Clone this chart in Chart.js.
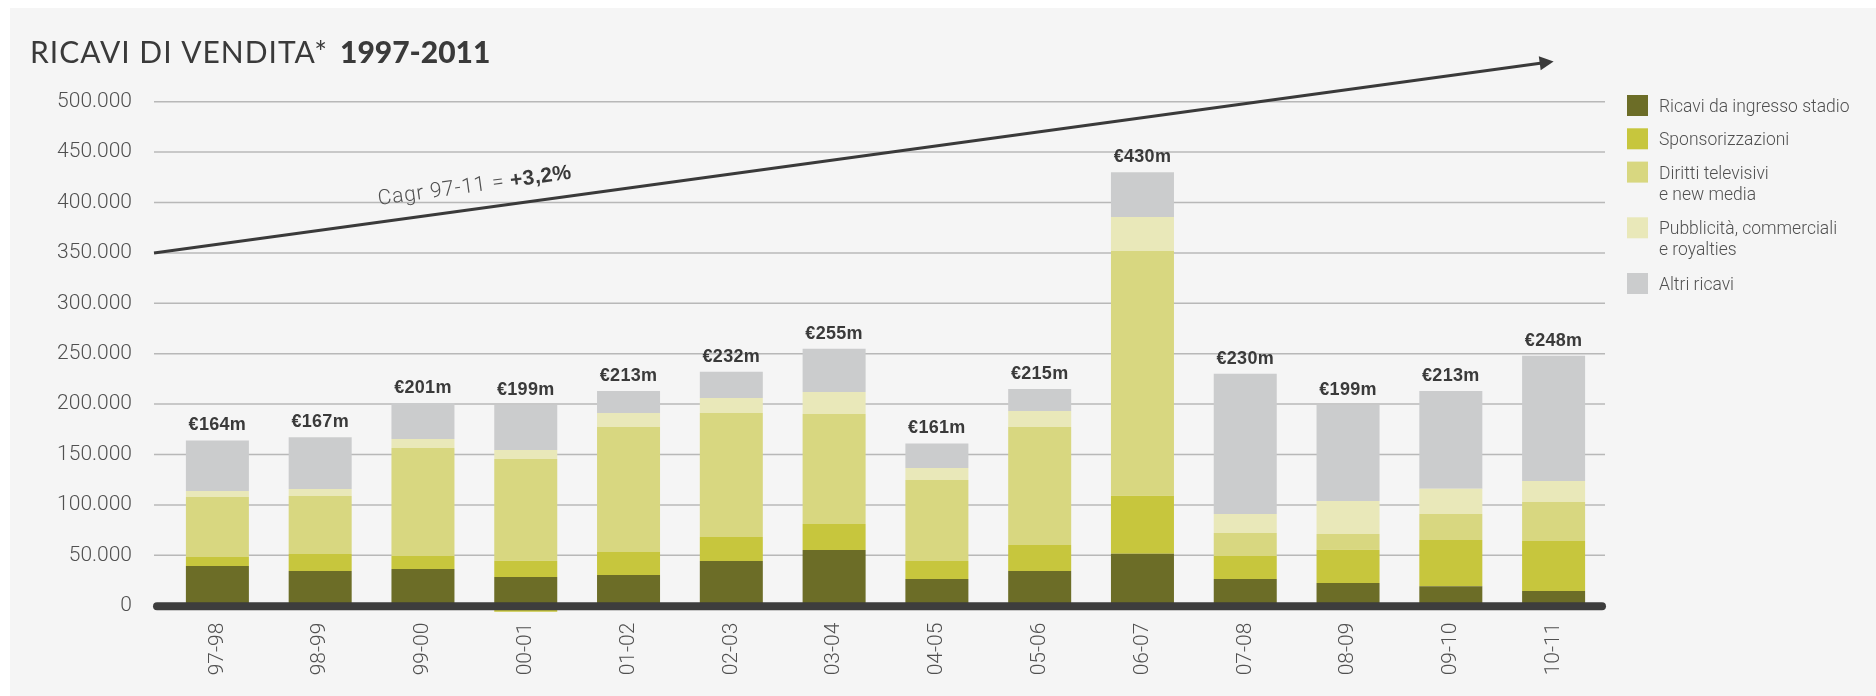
<!DOCTYPE html>
<html>
<head>
<meta charset="utf-8">
<script src="https://cdn.jsdelivr.net/npm/chart.js@4/dist/chart.umd.min.js"></script>
<style>
  html, body { margin: 0; padding: 0; background: #ffffff; }
  #wrap { position: absolute; left: 0; top: 0; width: 1876px; height: 696px; }
  canvas { display: block; }
</style>
</head>
<body>
<div id="wrap"><canvas id="chart" width="1876" height="696"></canvas></div>
<script>
// Seasons on the x axis
const seasons = ['97-98', '98-99', '99-00', '00-01', '01-02', '02-03', '03-04',
                 '04-05', '05-06', '06-07', '07-08', '08-09', '09-10', '10-11'];

// Revenue components, thousand euro
const stadio  = [39400, 34400, 36400, 28500, 30500, 44300, 55300, 26500, 34400, 51500, 26500, 22600, 19400, 14600];
const sponsor = [ 8900, 16900, 12900, 16000, 22800, 23900, 25700, 17800, 25800, 57600, 22800, 32800, 45800, 49600];
const sponsorNeg = [0, 0, 0, -6000, 0, 0, 0, 0, 0, 0, 0, 0, 0, 0];
const tv      = [59500, 57500, 107100, 101000, 124000, 123000, 109200, 80400, 117100, 242800, 22900, 15700, 25700, 38700];
const pubb    = [ 6000,  7000,   9000,   9000,  13900,  14800,  21800, 11900,  15900,  33700, 18700, 32800, 25000, 20700];
const altri   = [50200, 51200,  35600,  44500,  21800,  26000,  43000, 24400,  21800,  44400, 139100, 95100, 97100, 124400];

// Legend entries (one array per entry, one string per line)
const seriesNames = [
  ['Ricavi da ingresso stadio'],
  ['Sponsorizzazioni'],
  ['Diritti televisivi', 'e new media'],
  ['Pubblicità, commerciali', 'e royalties'],
  ['Altri ricavi']
];
const seriesColors = ['#6c6d27', '#c7c63d', '#d8d780', '#e9e8b9', '#cbcccd'];

// Y axis ticks
const yTicks = [0, 50000, 100000, 150000, 200000, 250000, 300000, 350000, 400000, 450000, 500000];

// Growth trend arrow (thousand euro at start of grid and at last season)
const trendFrom = 350000;
const trendTo = 540000;

const TEXT_DARK = '#3a3a3a';
const TEXT_GRAY = '#505050';

function fmtThousands(v) {
  return String(v).replace(/\B(?=(\d{3})+(?!\d))/g, '.');
}

const GRID_LEFT = 154;

const decor = {
  id: 'decor',
  beforeDraw(chart) {
    const ctx = chart.ctx;
    ctx.save();
    ctx.fillStyle = '#ffffff';
    ctx.fillRect(0, 0, chart.width, chart.height);
    ctx.fillStyle = '#f5f5f5';
    ctx.fillRect(10, 8, chart.width - 10, chart.height - 8);

    // Title
    ctx.textBaseline = 'alphabetic';
    ctx.textAlign = 'left';
    ctx.fillStyle = TEXT_DARK;
    ctx.letterSpacing = '1px';
    ctx.font = '400 30px Lato';
    ctx.fillText('RICAVI DI VENDITA*', 30, 63);
    ctx.letterSpacing = '0px';
    ctx.font = '900 30px Lato';
    ctx.fillText('1997-2011', 340, 63);
    ctx.restore();
  },
  beforeDatasetsDraw(chart) {
    const ctx = chart.ctx;
    const y = chart.scales.y;
    const area = chart.chartArea;
    ctx.save();
    ctx.strokeStyle = '#b8b8b8';
    ctx.lineWidth = 1.5;
    yTicks.forEach(v => {
      if (v === 0) return;
      const py = y.getPixelForValue(v);
      ctx.beginPath();
      ctx.moveTo(GRID_LEFT, py);
      ctx.lineTo(area.right, py);
      ctx.stroke();
    });
    ctx.restore();
  },
  afterDatasetsDraw(chart) {
    const ctx = chart.ctx;
    const x = chart.scales.x;
    const y = chart.scales.y;
    const area = chart.chartArea;
    ctx.save();

    // Thick base line
    const y0 = y.getPixelForValue(0) + 0.5;
    ctx.strokeStyle = '#3d3d3d';
    ctx.lineWidth = 8;
    ctx.lineCap = 'round';
    ctx.beginPath();
    ctx.moveTo(GRID_LEFT + 3, y0);
    ctx.lineTo(area.right - 3, y0);
    ctx.stroke();

    // Totals above each stack
    ctx.fillStyle = TEXT_DARK;
    ctx.font = 'bold 18px "Liberation Sans", Arial, sans-serif';
    ctx.textAlign = 'center';
    ctx.textBaseline = 'alphabetic';
    ctx.letterSpacing = '0.3px';
    seasons.forEach((s, i) => {
      const total = stadio[i] + sponsor[i] + tv[i] + pubb[i] + altri[i];
      const px = x.getPixelForValue(i);
      const py = y.getPixelForValue(total);
      ctx.fillText('€' + Math.round(total / 1000) + 'm', px, py - 10);
    });
    ctx.letterSpacing = '0px';

    // Trend arrow
    const xa = GRID_LEFT;
    const ya = y.getPixelForValue(trendFrom);
    const xb = x.getPixelForValue(seasons.length - 1);
    const yb = y.getPixelForValue(trendTo);
    const ang = Math.atan2(yb - ya, xb - xa);
    ctx.strokeStyle = '#3a3a3a';
    ctx.fillStyle = '#3a3a3a';
    ctx.lineWidth = 3;
    ctx.lineCap = 'butt';
    ctx.beginPath();
    ctx.moveTo(xa, ya);
    ctx.lineTo(xb - Math.cos(ang) * 8, yb - Math.sin(ang) * 8);
    ctx.stroke();
    ctx.save();
    ctx.translate(xb, yb);
    ctx.rotate(ang);
    ctx.beginPath();
    ctx.moveTo(0, 0);
    ctx.lineTo(-14, -7);
    ctx.lineTo(-14, 7);
    ctx.closePath();
    ctx.fill();
    ctx.restore();

    // Trend caption along the arrow
    const tx = 381;
    const ty = ya + (tx - xa) * Math.tan(ang);
    ctx.save();
    ctx.translate(tx, ty);
    ctx.rotate(ang);
    ctx.textAlign = 'left';
    ctx.textBaseline = 'alphabetic';
    ctx.fillStyle = TEXT_GRAY;
    ctx.letterSpacing = '0.8px';
    ctx.font = '300 21px Roboto';
    const cap1 = 'Cagr 97-11 = ';
    ctx.fillText(cap1, 0, -17);
    const cw = ctx.measureText(cap1).width;
    ctx.fillStyle = TEXT_DARK;
    ctx.letterSpacing = '0.3px';
    ctx.font = 'bold 21px "Liberation Sans", Arial, sans-serif';
    ctx.fillText('+3,2%', cw, -17);
    ctx.letterSpacing = '0px';
    ctx.restore();

    // Legend
    let ly = 95;
    ctx.textAlign = 'left';
    ctx.font = '300 17.5px Roboto';
    seriesNames.forEach((lines, i) => {
      ctx.fillStyle = seriesColors[i];
      ctx.fillRect(1627, ly, 21, 21);
      ctx.fillStyle = TEXT_GRAY;
      lines.forEach((t, j) => ctx.fillText(t, 1659, ly + 17 + j * 21));
      ly += 33.3 + 22.4 * (lines.length - 1);
    });

    ctx.restore();
  }
};

const barCommon = {
  barPercentage: 0.613,
  categoryPercentage: 1,
  borderWidth: 0,
  clip: false,
  stack: 'ricavi'
};

new Chart(document.getElementById('chart'), {
  type: 'bar',
  data: {
    labels: seasons,
    datasets: [
      Object.assign({ label: seriesNames[0].join(' '), data: stadio, backgroundColor: seriesColors[0] }, barCommon),
      Object.assign({ label: seriesNames[1].join(' '), data: sponsor, backgroundColor: seriesColors[1] }, barCommon),
      Object.assign({ label: seriesNames[1].join(' '), data: sponsorNeg, backgroundColor: seriesColors[1] }, barCommon),
      Object.assign({ label: seriesNames[2].join(' '), data: tv, backgroundColor: seriesColors[2] }, barCommon),
      Object.assign({ label: seriesNames[3].join(' '), data: pubb, backgroundColor: seriesColors[3] }, barCommon),
      Object.assign({ label: seriesNames[4].join(' '), data: altri, backgroundColor: seriesColors[4] }, barCommon)
    ]
  },
  options: {
    responsive: false,
    devicePixelRatio: 1,
    animation: false,
    layout: { padding: { left: 0, top: 101.7, right: 271, bottom: 0 } },
    plugins: {
      legend: { display: false },
      title: { display: false },
      tooltip: { enabled: false }
    },
    scales: {
      x: {
        stacked: true,
        grid: { display: false, drawTicks: false },
        border: { display: false },
        ticks: {
          minRotation: 90,
          maxRotation: 90,
          padding: 17,
          color: TEXT_GRAY,
          font: { family: 'Roboto', weight: '300', size: 21 }
        },
        afterFit: (scale) => { scale.height = 90.3; }
      },
      y: {
        stacked: true,
        min: 0,
        max: 500000,
        grid: { display: false, drawTicks: false },
        border: { display: false },
        afterBuildTicks: (scale) => { scale.ticks = yTicks.map(v => ({ value: v })); },
        ticks: {
          padding: 34,
          color: TEXT_GRAY,
          font: { family: 'Roboto', weight: '300', size: 21 },
          callback: (v) => fmtThousands(v)
        },
        afterFit: (scale) => { scale.width = 166; }
      }
    }
  },
  plugins: [decor]
});
</script>
</body>
</html>
